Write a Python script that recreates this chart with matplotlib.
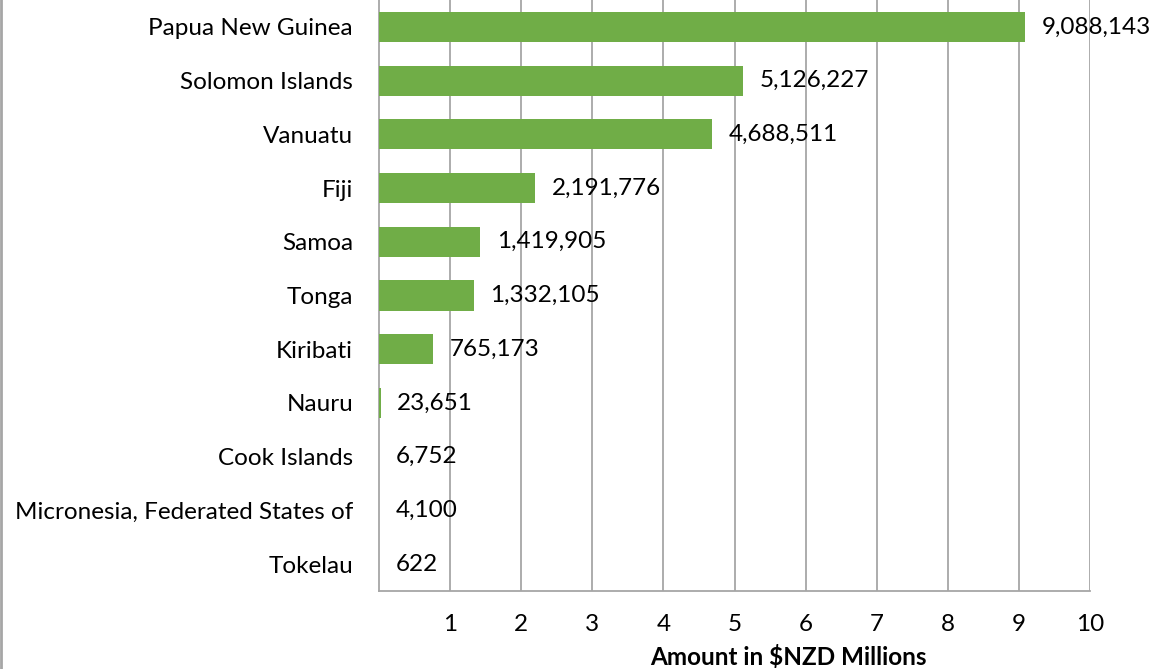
import matplotlib
matplotlib.use("Agg")
import matplotlib.pyplot as plt
from matplotlib.lines import Line2D

countries = ["Papua New Guinea", "Solomon Islands", "Vanuatu", "Fiji", "Samoa", "Tonga",
             "Kiribati", "Nauru", "Cook Islands", "Micronesia, Federated States of", "Tokelau"]
amounts = [9088143, 5126227, 4688511, 2191776, 1419905, 1332105, 765173, 23651, 6752, 4100, 622]
xticks = [1, 2, 3, 4, 5, 6, 7, 8, 9, 10]

plt.rcParams['font.family'] = ['Lato', 'DejaVu Sans']
FS = 17.5

W, H = 1157, 669
fig = plt.figure(figsize=(W / 100, H / 100), dpi=100)
left, right, top, bottom = 379, 1090, 0, 591
ax = fig.add_axes([left / W, 1 - bottom / H, (right - left) / W, (bottom - top) / H])

vals = [a / 1e6 for a in amounts]
ypos = list(range(len(countries)))
ax.barh(ypos, vals, height=0.56, color="#70AD47", zorder=3)
ax.set_ylim(len(countries) - 0.5, -0.5)
ax.set_xlim(0, 10)
ax.set_xticks(xticks)
ax.set_xticklabels([str(t) for t in xticks], fontsize=FS)
ax.set_yticks(ypos)
ax.set_yticklabels(countries, fontsize=FS)
ax.tick_params(axis='x', length=0, pad=16.5)
ax.tick_params(axis='y', length=0, pad=18.7)
ax.grid(axis='x', color="#A6A6A6", linewidth=1.3, zorder=1)
for s in ["top", "right"]:
    ax.spines[s].set_visible(False)
for s in ["left", "bottom"]:
    ax.spines[s].set_color("#A6A6A6")
    ax.spines[s].set_linewidth(1.3)

for y, v, a in zip(ypos, vals, amounts):
    ax.annotate(f"{a:,}", xy=(v, y), xytext=(12, 0), textcoords="offset points",
                ha="left", va="center", fontsize=FS, zorder=4)

fig.text(788 / W, 1 - 657 / H, "Amount in $NZD Millions", ha="center", va="center",
         fontsize=FS, fontweight="bold")

fig.add_artist(Line2D([1 / W, 1 / W], [0, 1], transform=fig.transFigure, color="#A6A6A6", linewidth=2))

fig.savefig("out.png", dpi=100)
